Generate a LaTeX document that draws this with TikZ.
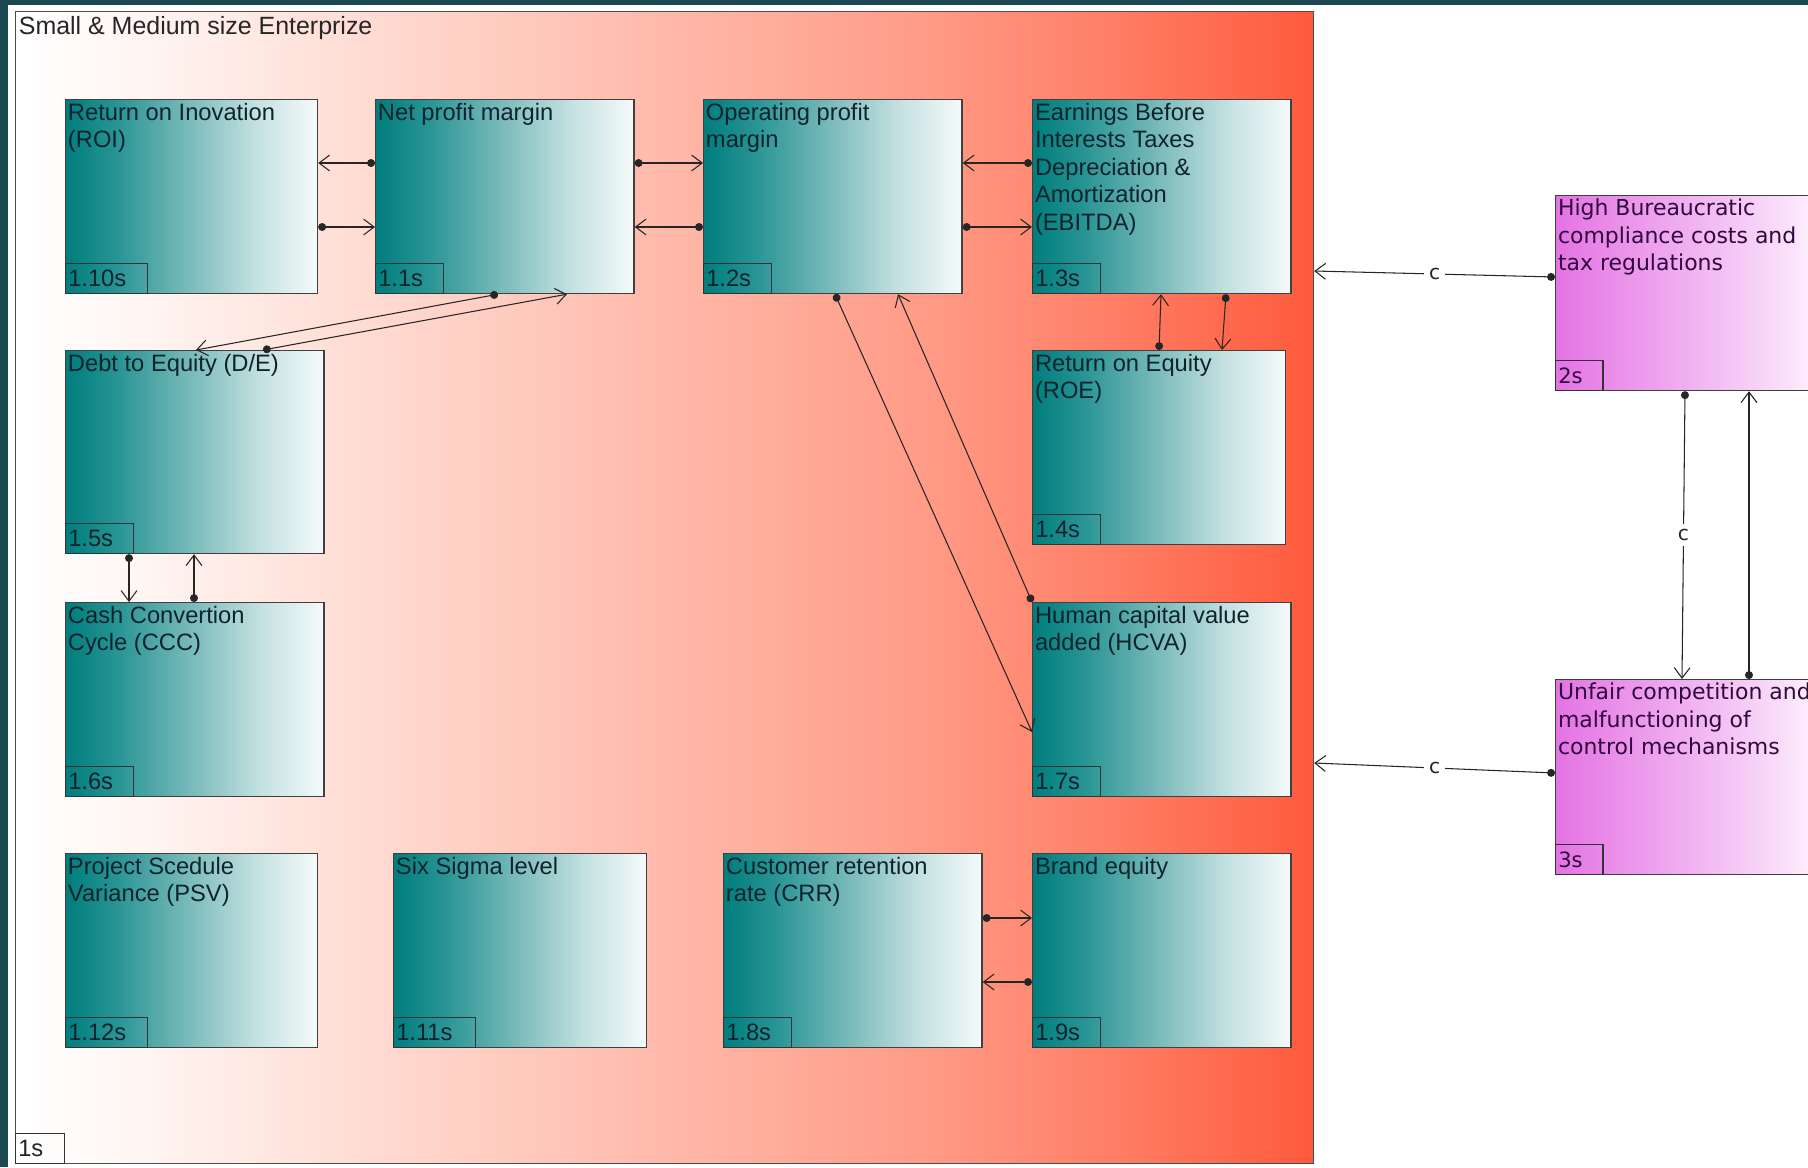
\documentclass[tikz,border=0pt]{standalone}
\usepackage{fontspec}
\setmainfont{Liberation Sans}
\newfontfamily\verdanalike{DejaVu Sans}
\usepackage{xcolor}
\usetikzlibrary{arrows.meta, positioning, calc}

\definecolor{frameteal}{RGB}{28,72,82}
\definecolor{kpitext}{RGB}{15,35,45}
\definecolor{risktext}{RGB}{50,8,62}
% Farbstufen fuer die Verlaeufe
\definecolor{smeA}{RGB}{255,245,242}
\definecolor{smeB}{RGB}{255,215,205}
\definecolor{smeC}{RGB}{255,185,170}
\definecolor{smeD}{RGB}{255,155,135}
\definecolor{smeE}{RGB}{255,125,100}
\definecolor{smeF}{RGB}{255,90,60}
\definecolor{tealA}{RGB}{0,125,125}
\definecolor{tealB}{RGB}{40,148,148}
\definecolor{tealC}{RGB}{125,188,188}
\definecolor{tealD}{RGB}{195,224,224}
\definecolor{tealE}{RGB}{245,250,250}
\definecolor{violA}{RGB}{228,115,228}
\definecolor{violB}{RGB}{240,175,240}
\definecolor{violC}{RGB}{250,225,250}
\definecolor{violD}{RGB}{253,242,253}

\pgfdeclarehorizontalshading{smefade}{100bp}{color(0bp)=(white); color(25bp)=(white); color(30bp)=(smeA); color(40bp)=(smeB); color(50bp)=(smeC); color(60bp)=(smeD); color(67.5bp)=(smeE); color(75bp)=(smeF); color(100bp)=(smeF)}
\pgfdeclarehorizontalshading{tealfade}{100bp}{color(0bp)=(tealA); color(25bp)=(tealA); color(35bp)=(tealB); color(50bp)=(tealC); color(62.5bp)=(tealD); color(75bp)=(tealE); color(100bp)=(tealE)}
\pgfdeclarehorizontalshading{violetfade}{100bp}{color(0bp)=(violA); color(25bp)=(violA); color(50bp)=(violB); color(70bp)=(violC); color(75bp)=(violD); color(100bp)=(violD)}

\begin{document}
\begin{tikzpicture}[x=0.02cm, y=-0.02cm,
    kpi/.style={draw=black!75, line width=0.7pt, shade, shading=tealfade, inner sep=0pt, anchor=north west, minimum width=5.17cm, minimum height=3.88cm},
    risk/.style={kpi, shading=violetfade, minimum width=5.18cm, minimum height=3.9cm},
    kpititle/.style={anchor=north west, align=left, inner xsep=1.5pt, inner ysep=2pt, text=kpitext, font=\fontsize{13.5}{15.7}\selectfont},
    risktitle/.style={kpititle, text=risktext, font=\verdanalike\fontsize{12.5}{15.7}\selectfont},
    tagbox/.style={draw=black!80, line width=0.7pt, anchor=south west, inner xsep=1.5pt, inner ysep=0pt, minimum height=0.6cm, text width=#1, align=left, text=kpitext, font=\fontsize{13.5}{15.7}\selectfont},
    link/.style={line width=0.6pt, black!85, {Circle[length=4.5pt]}-{Straight Barb[length=6pt, width=9pt]}},
    clabel/.style={fill=white, inner sep=3pt, text=black!85, font=\verdanalike\fontsize{11.5}{13}\selectfont}]

    % Rahmen und Bildgrenzen
    \useasboundingbox (0,0) rectangle (1808,1167);
    \clip (0,0) rectangle (1808,1167);
    \fill[white] (0,0) rectangle (1808,1167);
    \fill[frameteal] (0,0) rectangle (1808,5);
    \fill[frameteal] (0,0) rectangle (8,1167);

    % Unternehmen (Container)
    \node[draw=black!70, line width=0.8pt, shade, shading=smefade, inner sep=0pt, anchor=north west,
          minimum width=25.96cm, minimum height=23.04cm,
          label={[kpititle, text=black!85, inner xsep=2pt, inner ysep=3pt, font=\fontsize{14.2}{16}\selectfont]north west:{Small \& Medium size Enterprize}},
          label={[tagbox=0.87cm, text=black!85]south west:1s}] (sme) at (15,11) {};

    % Kennzahlen
    \node[kpi, minimum width=5.04cm, label={[kpititle]north west:{Return on Inovation\\(ROI)}}, label={[tagbox=1.53cm]south west:1.10s}] (roi) at (65,99) {};
    \node[kpi, label={[kpititle]north west:{Net profit margin}}, label={[tagbox=1.25cm]south west:1.1s}] (net) at (375,99) {};
    \node[kpi, label={[kpititle]north west:{Operating profit\\margin}}, label={[tagbox=1.25cm]south west:1.2s}] (op) at (703,99) {};
    \node[kpi, label={[kpititle]north west:{Earnings Before\\Interests Taxes\\Depreciation \&\\Amortization\\(EBITDA)}}, label={[tagbox=1.25cm]south west:1.3s}] (ebitda) at (1032,99) {};
    \node[kpi, minimum width=5.06cm, label={[kpititle]north west:{Return on Equity\\(ROE)}}, label={[tagbox=1.25cm]south west:1.4s}] (roe) at (1032,350) {};
    \node[kpi, minimum height=4.06cm, label={[kpititle]north west:{Debt to Equity (D/E)}}, label={[tagbox=1.25cm]south west:1.5s}] (de) at (65,350) {};
    \node[kpi, label={[kpititle]north west:{Cash Convertion\\Cycle (CCC)}}, label={[tagbox=1.25cm]south west:1.6s}] (ccc) at (65,602) {};
    \node[kpi, label={[kpititle]north west:{Human capital value\\added (HCVA)}}, label={[tagbox=1.25cm]south west:1.7s}] (hcva) at (1032,602) {};
    \node[kpi, minimum width=5.04cm, label={[kpititle]north west:{Project Scedule\\Variance (PSV)}}, label={[tagbox=1.53cm]south west:1.12s}] (psv) at (65,853) {};
    \node[kpi, minimum width=5.06cm, label={[kpititle]north west:{Six Sigma level}}, label={[tagbox=1.53cm]south west:1.11s}] (sixsigma) at (393,853) {};
    \node[kpi, label={[kpititle]north west:{Customer retention\\rate (CRR)}}, label={[tagbox=1.25cm]south west:1.8s}] (crr) at (723,853) {};
    \node[kpi, label={[kpititle]north west:{Brand equity}}, label={[tagbox=1.25cm]south west:1.9s}] (brand) at (1032,853) {};

    % externe Risiken
    \node[risk, label={[risktitle]north west:{High Bureaucratic\\compliance costs and\\tax regulations}}, label={[tagbox=0.84cm, text=risktext, font=\verdanalike\fontsize{12}{15.7}\selectfont]south west:2s}] (bur) at (1555,195) {};
    \node[risk, label={[risktitle]north west:{Unfair competition and\\malfunctioning of\\control mechanisms}}, label={[tagbox=0.84cm, text=risktext, font=\verdanalike\fontsize{12}{15.7}\selectfont]south west:3s}] (unfair) at (1555,679) {};

    % Verbindungen obere Reihe
    \draw[link] (net.west |- 0,163) -- (roi.east |- 0,163);
    \draw[link] (roi.east |- 0,227) -- (net.west |- 0,227);
    \draw[link] (net.east |- 0,163) -- (op.west |- 0,163);
    \draw[link] (op.west |- 0,227) -- (net.east |- 0,227);
    \draw[link] (ebitda.west |- 0,163) -- (op.east |- 0,163);
    \draw[link] (op.east |- 0,227) -- (ebitda.west |- 0,227);
    \draw[link] (roe.north -| 1159,0) -- (ebitda.south -| 1161,0);
    \draw[link] (ebitda.south -| 1226,0) -- (roe.north -| 1222,0);

    % Verbindungen linke Spalte
    \draw[link] (net.south -| 498,0) -- (de.north -| 196,0);
    \draw[link] (de.north -| 263,0) -- (net.south -| 567,0);
    \draw[link] (de.south -| 129,0) -- (ccc.north -| 129,0);
    \draw[link] (ccc.north -| 194,0) -- (de.south -| 194,0);

    % Verbindungen Mitte / unten
    \draw[link] (op.south -| 835,0) -- (hcva.west |- 0,732);
    \draw[link] (hcva.north west) -- (op.south -| 898,0);
    \draw[link] (crr.east |- 0,918) -- (brand.west |- 0,918);
    \draw[link] (brand.west |- 0,982) -- (crr.east |- 0,982);

    % Einfluesse von aussen
    \draw[link] (bur.west |- 0,277) -- node[clabel] {c} (sme.east |- 0,271);
    \draw[link] (unfair.west |- 0,773) -- node[clabel] {c} (sme.east |- 0,763);
    \draw[link] (bur.south -| 1685,0) -- node[clabel] {c} (unfair.north -| 1682,0);
    \draw[link] (unfair.north -| 1749,0) -- (bur.south -| 1749,0);
\end{tikzpicture}
\end{document}
